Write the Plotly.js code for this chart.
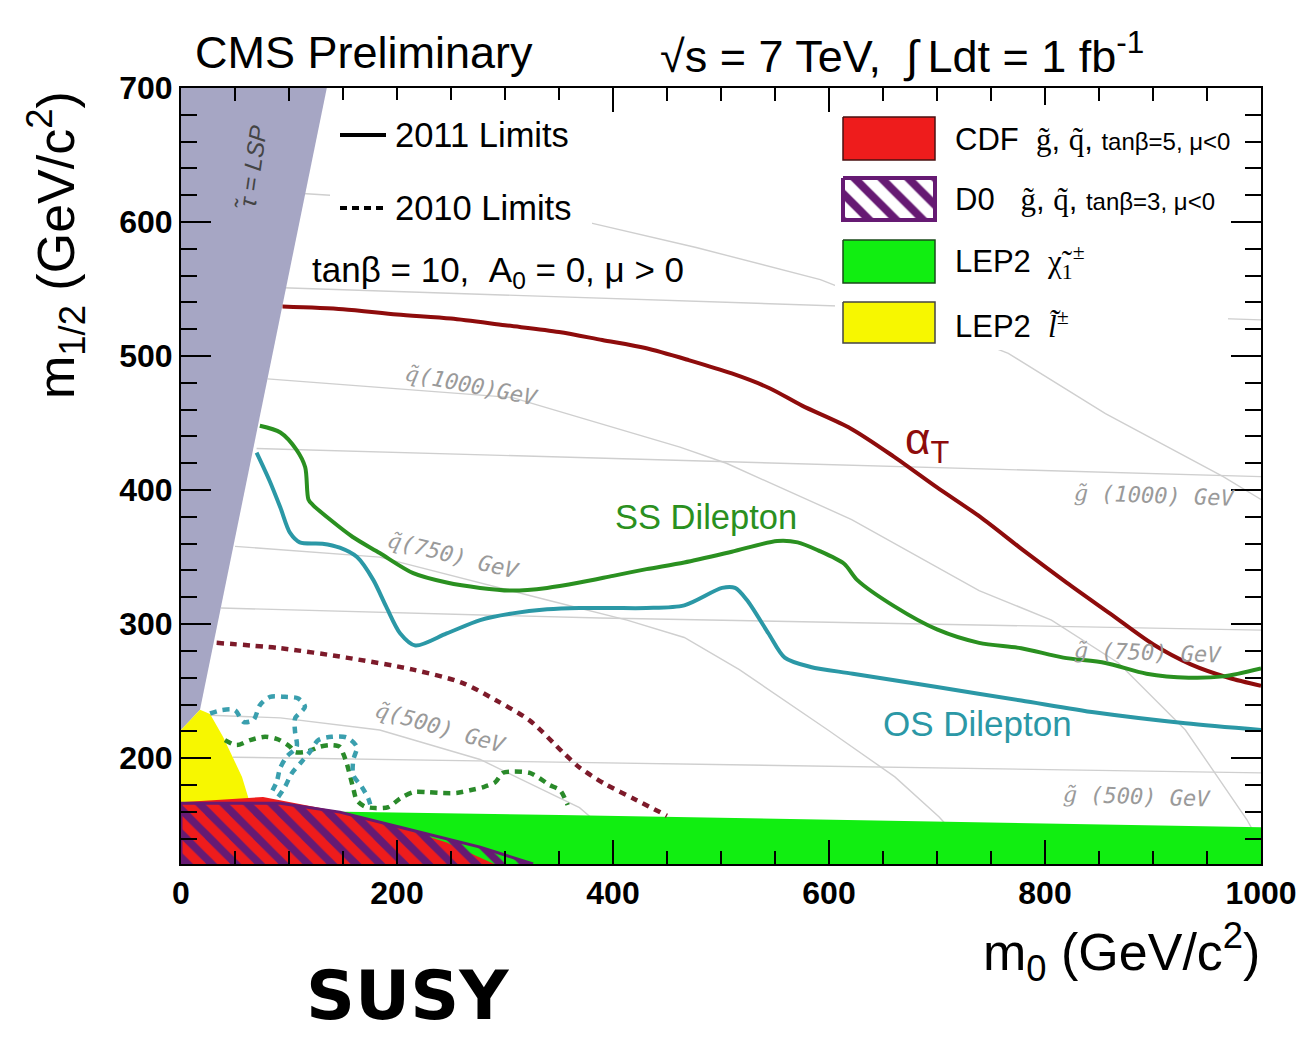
<!DOCTYPE html>
<html><head><meta charset="utf-8">
<script src="https://cdn.plot.ly/plotly-3.0.1.min.js"></script>
<style>body{margin:0;background:#fff}</style>
</head><body><div id="chart" style="width:1308px;height:1037px"></div>
<script>
// ---------- DATA (m0, m1/2 in GeV) ----------
// 2011 limits
const alphaT2011_m0  = [94,150,200,250,300,350,390,430,470,510,545,575,620,660,700,740,780,820,860,900,935,970,1000];
const alphaT2011_m12 = [537,535,531,528,523,518,512,506,497,487,476,463,446,425,402,380,355,331,308,285,270,260,254];
const ss2011_m0  = [73,92,107,115,118,122,138,159,184,215,246,277,307,339,369,400,431,466,510,552,571,590,614,626,661,700,739,778,817,856,894,933,965,1000];
const ss2011_m12 = [448,443,430,417,393,389,378,365,353,338,331,327,325,327,331,336,341,346,354,362,361,355,345,333,313,296,286,282,275,271,263,260,261,267];
const os2011_m0  = [70,82,92,101,110,131,147,163,178,190,203,217,246,277,307,339,369,400,431,466,501,513,524,544,559,583,622,700,778,847,930,1000];
const os2011_m12 = [428,407,387,368,361,360,357,350,333,313,293,284,293,303,308,311,312,312,312,314,327,327,318,293,275,268,263,253,243,234,226,221];
// 2010 limits
const alphaT2010_m0  = [33,92,153,215,261,292,323,354,369,392,421,450];
const alphaT2010_m12 = [286,282,275,266,256,243,228,204,193,181,169,157];
const ss2010_m0  = [40.7,51.5,63.9,77.8,90.1,100.9,105.6,116,128.7,138,147,150,153.4,159.5,162.7,170,180,192,203,215,227.5,240,255,267.6,280,291,298,307.7,323,332,341,351,358];
const ss2010_m12 = [213.4,209.7,213.4,215.9,213.9,208.5,204.5,204.7,208.5,209.7,208.5,203.7,196.3,177.4,168.7,164,162.7,163.4,170,174.6,174.6,174,174,176,178.4,182,189,190,189,185,180,176,165];
const os2010_m0  = [26.9,37.7,50,57.7,67,73.1,82.4,96.3,108.6,114.8,105.6,105.6,107.1,97.8,91.7,88.6,82.4,null,90.1,96.3,102.5,111.7,119.4,127.1,139.5,153.4,162.7,159.5,159.5,167.3,173.4,176];
const os2010_m12 = [233.3,235.8,235.8,227.1,228.4,239.6,245.7,245.7,244.5,238.3,229.6,219.7,208.5,201,192.3,182.3,172.4,null,171.1,178.6,188.6,197.3,204.7,213.4,215.9,215.4,208.5,198.5,187.3,178.6,170,163];
// excluded regions
const stauLSP_m0  = [0,135,17.6,0];
const stauLSP_m12 = [700,700,236,221];
const lep2Chi_m0  = [0,152,351,1000,1000,0];
const lep2Chi_m12 = [161,160,157.5,148.5,121,121];
const lep2Slep_m0  = [0,0,17.6,26.9,38.9,48,56.5,61,64];
const lep2Slep_m12 = [166,221,236,233,216,201,186,174,166];
const cdf_m0  = [0,0,76,147,196,246,290];
const cdf_m12 = [121,167,171,160,150,137,121];
const d0_m0  = [0,0,92,147,215,277,326];
const d0_m12 = [121,166.4,166.4,159.7,146,133.6,121];
// iso-mass contours
const sq1250_m0  = [98,138,381,477,592,766,856,965,1000];
const sq1250_m12 = [622,620,599,581,557,502,457,410,393];
const sq1000_m0  = [80,307,462,505,621,739,806,868,930,987,1000];
const sq1000_m12 = [483,469,432,420,378,325,303,271,221,154,135];
const sq750_m0  = [50,184,339,413,466,517,599,661,702,720];
const sq750_m12 = [358,350,318,303,290,266,221,186,156,140];
const sq500_m0  = [27,92,184,277,369,385];
const sq500_m12 = [232,230,221,199,163,152];
const gl1250_m0  = [94,592,1000];
const gl1250_m12 = [551,538,527];
const gl1000_m0  = [70,388,1000];
const gl1000_m12 = [431,424,410];
const gl750_m0  = [37,388,1000];
const gl750_m12 = [312,304.5,295.5];
const gl500_m0  = [48,351,1000];
const gl500_m12 = [200.7,197,189];
// contour labels
const contourLabel_particle = ['q','q','q','g','g','g'];
const contourLabel_mass = ['(1000)GeV','(750) GeV','(500) GeV',' (1000) GeV',' (750) GeV',' (500) GeV'];
const contourLabel_m0  = [269,252,240,902,895,885];
const contourLabel_m12 = [478,351.5,223,396,279,171];
const contourLabel_ang = [11,14,16,2,2,2];

// ---------- helpers ----------
const L=181, R=1261, T=88, B=864;
const px = x => (x-L)/(R-L);
const py = y => (B-y)/(B-T);
const SANS = 'Liberation Sans, Arial, sans-serif';

const traces = [];
function contour(x,y){traces.push({x,y,type:'scatter',mode:'lines',line:{color:'#cfcfcf',width:1.4},hoverinfo:'skip',showlegend:false});}
[[sq1250_m0,sq1250_m12],[sq1000_m0,sq1000_m12],[sq750_m0,sq750_m12],[sq500_m0,sq500_m12],
 [gl1250_m0,gl1250_m12],[gl1000_m0,gl1000_m12],[gl750_m0,gl750_m12],[gl500_m0,gl500_m12]].forEach(c=>contour(c[0],c[1]));

function region(x,y,fill,extra){traces.push(Object.assign({x,y,type:'scatter',mode:'lines',fill:'toself',fillcolor:fill,line:{width:0},hoverinfo:'skip',showlegend:false},extra||{}));}
region(stauLSP_m0,stauLSP_m12,'rgb(166,166,196)');
region(lep2Chi_m0,lep2Chi_m12,'#11ee11');
region(lep2Slep_m0,lep2Slep_m12,'#f7f700');
region(cdf_m0,cdf_m12,'#ee1c1c');
region(d0_m0,d0_m12,'rgba(0,0,0,0)',{line:{width:3,color:'#661a73'},fillpattern:{shape:'\\',fgcolor:'#661a73',bgcolor:'rgba(0,0,0,0)',size:17,solidity:0.45}});

function limit(x,y,color,dash,w){traces.push({x,y,type:'scatter',mode:'lines',connectgaps:false,line:{color,width:w||4,dash:dash||'solid',shape:'spline',smoothing:0.8},hoverinfo:'skip',showlegend:false});}
limit(alphaT2010_m0,alphaT2010_m12,'#7d1a2a','7px,6px',4.5);
limit(ss2010_m0,ss2010_m12,'#2a8a2a','7px,6px',4.5);
limit(os2010_m0,os2010_m12,'#3a9fae','7px,6px',4.5);
limit(alphaT2011_m0,alphaT2011_m12,'#8e0c0c');
limit(ss2011_m0,ss2011_m12,'#2a9020');
limit(os2011_m0,os2011_m12,'#2b98a6');

// legend boxes (overlay subplots, pixel units)
function rect(x0,x1,y0,y1,xa,ya,fill,lc,lw,extra){traces.push(Object.assign({x:[x0,x1,x1,x0,x0],y:[y0,y0,y1,y1,y0],xaxis:xa,yaxis:ya,type:'scatter',mode:'lines',fill:'toself',fillcolor:fill,line:{color:lc,width:lw},hoverinfo:'skip',showlegend:false},extra||{}));}
rect(835,1228,105,350,'x2','y2','#ffffff','#ffffff',0);
rect(843,935,117,160,'x2','y2','#ee1c1c','#4a1010',1.5);
rect(843,935,178,220,'x2','y2','#ffffff','#661a73',4,{fillpattern:{shape:'\\',fgcolor:'#661a73',bgcolor:'#ffffff',size:19,solidity:0.42}});
rect(843,935,240,283,'x2','y2','#11ee11','#1a4a1a',1.5);
rect(843,935,302,343,'x2','y2','#f7f700','#444444',1.5);
rect(330,592,100,232,'x3','y3','#ffffff','#ffffff',0);
traces.push({x:[340,386],y:[135,135],xaxis:'x3',yaxis:'y3',type:'scatter',mode:'lines',line:{color:'black',width:4},hoverinfo:'skip',showlegend:false});
traces.push({x:[340,386],y:[208,208],xaxis:'x3',yaxis:'y3',type:'scatter',mode:'lines',line:{color:'black',width:4,dash:'7px,5px'},hoverinfo:'skip',showlegend:false});

const ann = [];
function txt(text,x,y,size,opts){ann.push(Object.assign({text,x:px(x),y:py(y),xref:'paper',yref:'paper',showarrow:false,xanchor:'left',yanchor:'middle',font:{family:SANS,size,color:'black'}},opts||{}));}
txt('CMS Preliminary',193,53,45);
txt('\u221As = 7 TeV,\u00A0\u00A0\u222B\u2009Ldt = 1 fb<sup>-1</sup>',658,53,45);
txt('m<sub>1/2</sub> (GeV/c<sup>2</sup>)',56,245,52,{xanchor:'center',textangle:-90});
txt('m<sub>0</sub> (GeV/c<sup>2</sup>)',1262,952,52,{xanchor:'right'});
txt('SUSY',407,1037,68,{xanchor:'center',yanchor:'bottom',font:{family:'DejaVu Sans, '+SANS,size:68,color:'black',weight:'bold'}});
txt('2011 Limits',393,135,34.5);
txt('2010 Limits',393,208,34.5);
txt('tan\u03B2 = 10,  A<sub>0</sub> = 0, \u03BC > 0',310,272,35);
const g='<span style="font-family:Liberation Serif">g\u0303</span>', q='<span style="font-family:Liberation Serif">q\u0303</span>';
txt('CDF\u00A0\u00A0'+g+', '+q+', <span style="font-size:24px">tan\u03B2=5, \u03BC&lt;0</span>',953,139,31);
txt('D0\u00A0\u00A0\u00A0'+g+', '+q+', <span style="font-size:24px">tan\u03B2=3, \u03BC&lt;0</span>',953,199,31);
txt('LEP2\u00A0\u00A0<span style="font-family:Liberation Serif">\u03C7\u0303<sub>1</sub><sup>\u00B1</sup></span>',953,262,31);
txt('LEP2\u00A0\u00A0<span style="font-family:Liberation Serif;font-style:italic">l\u0303<sup>\u00B1</sup></span>',953,324,31);
txt('\u03B1<sub>T</sub>',903,442,44,{font:{family:SANS,size:44,color:'#8e0c0c'}});
txt('SS Dilepton',613,517,34.5,{font:{family:SANS,size:34.5,color:'#2a9020'}});
txt('OS Dilepton',881,723,35,{font:{family:SANS,size:35,color:'#2b98a6'}});
txt('\u03C4\u0303 = LSP',253,168,24,{xanchor:'center',textangle:-82,font:{family:SANS,size:24,color:'#444',style:'italic'}});
contourLabel_mass.forEach((t,i)=>ann.push({
  text:'<span style="font-family:DejaVu Serif">'+contourLabel_particle[i]+'\u0303</span>'+t.replace(/ /g,'\u00A0'),
  x:contourLabel_m0[i],y:contourLabel_m12[i],xref:'x',yref:'y',showarrow:false,textangle:contourLabel_ang[i],
  font:{family:'DejaVu Sans Mono',size:22,color:'#9a9a9a',style:'italic'}}));

const tickfont={family:SANS,size:32,color:'black',weight:'bold'};
const layout={
  width:1308,height:1037,margin:{l:L,r:1308-R,t:T,b:1037-B},
  paper_bgcolor:'white',plot_bgcolor:'white',showlegend:false,
  xaxis:{range:[0,1000],tick0:0,dtick:200,ticks:'inside',ticklen:24,tickwidth:2,tickcolor:'black',
    minor:{dtick:50,ticks:'inside',ticklen:13,tickwidth:2,tickcolor:'black'},
    showline:true,linecolor:'black',linewidth:2,mirror:'allticks',showgrid:false,zeroline:false,tickfont,fixedrange:true},
  yaxis:{range:[121,700],tick0:0,dtick:100,ticks:'inside',ticklen:30,tickwidth:2,tickcolor:'black',
    minor:{dtick:20,ticks:'inside',ticklen:16,tickwidth:2,tickcolor:'black'},
    showline:true,linecolor:'black',linewidth:2,mirror:'allticks',showgrid:false,zeroline:false,tickfont,fixedrange:true},
  xaxis2:{domain:[px(835),px(1228)],range:[835,1228],visible:false,anchor:'y2',fixedrange:true},
  yaxis2:{domain:[py(350),py(105)],range:[350,105],visible:false,anchor:'x2',fixedrange:true},
  xaxis3:{domain:[px(330),px(592)],range:[330,592],visible:false,anchor:'y3',fixedrange:true},
  yaxis3:{domain:[py(232),py(100)],range:[232,100],visible:false,anchor:'x3',fixedrange:true},
  annotations:ann
};
Plotly.newPlot('chart',traces,layout,{staticPlot:true});
</script></body></html>
